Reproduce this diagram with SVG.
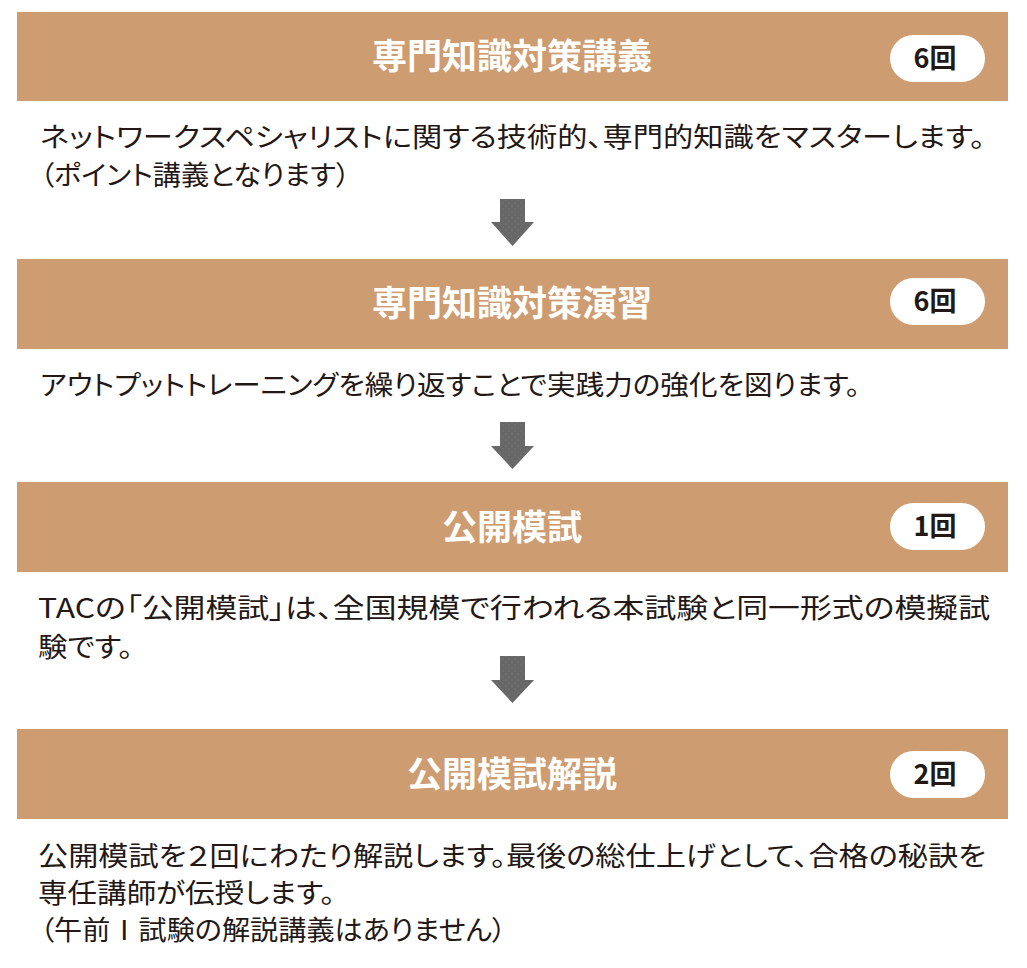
<svg xmlns="http://www.w3.org/2000/svg" width="1027" height="968" viewBox="0 0 1027 968">
<style>
.bar{fill:#CE9C71}
.title{font-family:"Noto Sans CJK JP","Noto Sans CJK SC",sans-serif;font-weight:700;font-size:35px;fill:#ffffff;text-anchor:middle}
.badge{fill:#ffffff}
.cnt{font-family:"Noto Sans CJK JP","Noto Sans CJK SC",sans-serif;font-weight:700;font-size:27px;fill:#231815;text-anchor:middle}
.body{font-family:"Noto Sans CJK JP","Noto Sans CJK SC",sans-serif;font-weight:400;font-size:27px;fill:#231815;font-feature-settings:"palt" 1}
.arrow{fill:url(#dots)}
</style>
<defs>
<pattern id="dots" width="6" height="6" patternUnits="userSpaceOnUse">
<rect width="6" height="6" fill="#676767"/>
<circle cx="2" cy="2" r="0.6" fill="#828282"/>
<circle cx="5" cy="5" r="0.6" fill="#828282"/>
</pattern>
</defs>
<rect width="1027" height="968" fill="#ffffff"/>

<g id="step1">
<rect class="bar" x="17" y="12" width="991" height="89"/>
<text class="title" x="512" y="69">専門知識対策講義</text>
<rect class="badge" x="890" y="35" width="95" height="47" rx="23.5"/>
<text class="cnt" x="935" y="68">6回</text>
<text class="body" x="40" y="147" textLength="945" lengthAdjust="spacingAndGlyphs">ネットワークスペシャリストに関する技術的、専門的知識をマスターします。</text>
<text class="body" x="40" y="185" textLength="310" lengthAdjust="spacingAndGlyphs">（ポイント講義となります）</text>
</g>

<g id="step2">
<rect class="bar" x="17" y="259" width="991" height="90"/>
<text class="title" x="512" y="316">専門知識対策演習</text>
<rect class="badge" x="890" y="278" width="95" height="47" rx="23.5"/>
<text class="cnt" x="935" y="311">6回</text>
<text class="body" x="40" y="395" textLength="820" lengthAdjust="spacingAndGlyphs">アウトプットトレーニングを繰り返すことで実践力の強化を図ります。</text>
</g>

<g id="step3">
<rect class="bar" x="17" y="482" width="991" height="90"/>
<text class="title" x="512" y="540">公開模試</text>
<rect class="badge" x="890" y="503" width="95" height="47" rx="23.5"/>
<text class="cnt" x="935" y="536">1回</text>
<text class="body" x="38" y="618" textLength="952" lengthAdjust="spacingAndGlyphs">TACの「公開模試」は、全国規模で行われる本試験と同一形式の模擬試</text>
<text class="body" x="38" y="657" textLength="95" lengthAdjust="spacingAndGlyphs">験です。</text>
</g>

<g id="step4">
<rect class="bar" x="17" y="729" width="991" height="90"/>
<text class="title" x="512" y="787">公開模試解説</text>
<rect class="badge" x="890" y="751" width="95" height="47" rx="23.5"/>
<text class="cnt" x="935" y="784">2回</text>
<text class="body" x="38" y="866" textLength="948" lengthAdjust="spacingAndGlyphs">公開模試を２回にわたり解説します。最後の総仕上げとして、合格の秘訣を</text>
<text class="body" x="38" y="903" textLength="297" lengthAdjust="spacingAndGlyphs">専任講師が伝授します。</text>
<text class="body" x="40" y="940" textLength="466" lengthAdjust="spacingAndGlyphs">（午前Ⅰ試験の解説講義はありません）</text>
</g>

<g id="connectors">
<polygon class="arrow" points="500,199 525,199 525,222 534,222 512.5,246 491,222 500,222"/>
<polygon class="arrow" points="500,422 525,422 525,446 534,446 512.5,469 491,446 500,446"/>
<polygon class="arrow" points="500,656 525,656 525,680 534,680 512.5,703 491,680 500,680"/>
</g>
</svg>
